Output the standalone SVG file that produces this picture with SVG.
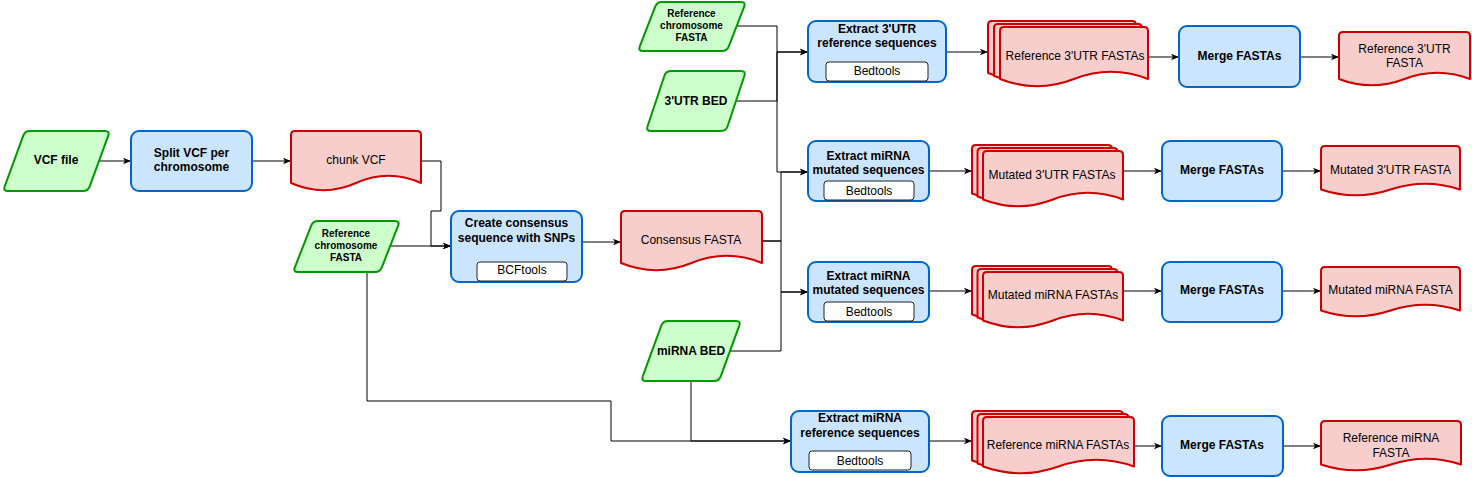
<svg xmlns="http://www.w3.org/2000/svg" width="1472" height="477" viewBox="0 0 1472 477">
<defs>
<marker id="arr" viewBox="0 0 10 10" refX="10" refY="5" markerWidth="8" markerHeight="8" markerUnits="userSpaceOnUse" orient="auto">
<path d="M0,1 L10,5 L0,9 L2.5,5 z" fill="#000"/>
</marker>
<style>
.io{fill:#ccffcc;stroke:#009900;stroke-width:2;stroke-linejoin:round}
.proc{fill:#cce5ff;stroke:#0066cc;stroke-width:2}
.doc{fill:#f8cecc;stroke:#cc0000;stroke-width:2;stroke-linejoin:round}
.tool{fill:#ffffff;stroke:#222;stroke-width:1}
.c{fill:none;stroke:#000;stroke-width:1;marker-end:url(#arr)}
.cn{fill:none;stroke:#000;stroke-width:1}
text{font-family:"Liberation Sans",Arial,Helvetica,sans-serif;font-size:12px;fill:#000;text-anchor:middle}
.b{font-weight:bold}
.s{font-size:10px;font-weight:bold}
</style>
</defs>
<rect width="1472" height="477" fill="#ffffff"/>

<g id="connectors">
<path class="c" d="M100,161 H131"/>
<path class="c" d="M252,161 H291"/>
<path class="c" d="M421,161 H441 V211 H431 V246 H451"/>
<path class="c" d="M390,246 H451"/>
<path class="c" d="M582,242 H621"/>
<path class="c" d="M736,26 H777 V52 H808"/>
<path class="c" d="M736,101 H777 V52 H808"/>
<path class="c" d="M777,52 V172 H808"/>
<path class="c" d="M762,241 H781 V172 H808"/>
<path class="c" d="M762,241 H781 V292 H808"/>
<path class="c" d="M730,351 H781 V292 H808"/>
<path class="c" d="M946,52 H988"/>
<path class="c" d="M1148,57 H1179"/>
<path class="c" d="M1300,57 H1339"/>
<path class="c" d="M929,171 H972"/>
<path class="c" d="M1123,171 H1162"/>
<path class="c" d="M1282,171 H1321"/>
<path class="c" d="M929,291 H972"/>
<path class="c" d="M1123,291 H1162"/>
<path class="c" d="M1282,291 H1321"/>
<path class="c" d="M367,272 V401 H611 V441 H791"/>
<path class="c" d="M691,381 V441 H791"/>
<path class="c" d="M929,441 H972"/>
<path class="c" d="M1134,446 H1162"/>
<path class="c" d="M1283,446 H1321"/>
</g>

<g id="vcf-file">
<path class="io" d="M30,131 L105,131 Q110,131 108.28,135.69 L89.72,186.31 Q88,191 83,191 L8,191 Q3,191 4.72,186.31 L23.28,135.69 Q25,131 30,131 Z"/>
<text class="b" x="56" y="164">VCF file</text>
</g>

<g id="split-vcf">
<rect class="proc" x="131" y="131" width="121" height="60" rx="8"/>
<text class="b" x="191.5" y="157">Split VCF per</text>
<text class="b" x="191.5" y="171">chromosome</text>
</g>

<g id="chunk-vcf">
<path class="doc" d="M291,135 Q291,131 295,131 H417 Q421,131 421,135 V183 Q388.5,168.6 356,183 Q323.5,197.4 291,183 Z"/>
<text x="356" y="164">chunk VCF</text>
</g>

<g id="ref-fasta-left">
<path class="io" d="M318,221 L395,221 Q400,221 398.17,225.65 L381.83,267.35 Q380,272 375,272 L298,272 Q293,272 294.83,267.35 L311.17,225.65 Q313,221 318,221 Z"/>
<text class="s" x="346" y="236.5">Reference</text>
<text class="s" x="346" y="248.5">chromosome</text>
<text class="s" x="346" y="260.5">FASTA</text>
</g>

<g id="create-consensus">
<rect class="proc" x="451" y="211" width="131" height="71" rx="8"/>
<text class="b" x="516.5" y="227">Create consensus</text>
<text class="b" x="516.5" y="242">sequence with SNPs</text>
<rect class="tool" x="477" y="262" width="90" height="19" rx="3"/>
<text x="522" y="273.5">BCFtools</text>
</g>

<g id="consensus-fasta">
<path class="doc" d="M621,215 Q621,211 625,211 H758 Q762,211 762,215 V263 Q726.75,248.6 691.5,263 Q656.25,277.4 621,263 Z"/>
<text x="691" y="243.5">Consensus FASTA</text>
</g>

<g id="ref-fasta-top">
<path class="io" d="M662,2 L741,2 Q746,2 744.19,6.66 L728.81,46.34 Q727,51 722,51 L643,51 Q638,51 639.81,46.34 L655.19,6.66 Q657,2 662,2 Z"/>
<text class="s" x="691.5" y="17">Reference</text>
<text class="s" x="691.5" y="29">chromosome</text>
<text class="s" x="691.5" y="41">FASTA</text>
</g>

<g id="utr-bed">
<path class="io" d="M671,71 L741,71 Q746,71 744.42,75.74 L727.58,126.26 Q726,131 721,131 L651,131 Q646,131 647.58,126.26 L664.42,75.74 Q666,71 671,71 Z"/>
<text class="b" x="696" y="104.5">3'UTR BED</text>
</g>

<g id="mirna-bed">
<path class="io" d="M668,321 L736,321 Q741,321 739.28,325.69 L720.72,376.31 Q719,381 714,381 L646,381 Q641,381 642.72,376.31 L661.28,325.69 Q663,321 668,321 Z"/>
<text class="b" x="691" y="355">miRNA BED</text>
</g>

<g id="extract-utr-ref">
<rect class="proc" x="808" y="21" width="138" height="61" rx="8"/>
<text class="b" x="877" y="32.5">Extract 3'UTR</text>
<text class="b" x="877" y="47">reference sequences</text>
<rect class="tool" x="826" y="62" width="102" height="19" rx="3"/>
<text x="877" y="75">Bedtools</text>
</g>

<g id="extract-mut-1">
<rect class="proc" x="808" y="141" width="121" height="60" rx="8"/>
<text class="b" x="868.5" y="160">Extract miRNA</text>
<text class="b" x="868.5" y="174">mutated sequences</text>
<rect class="tool" x="824" y="181" width="90" height="19" rx="3"/>
<text x="869" y="194.5">Bedtools</text>
</g>

<g id="extract-mut-2">
<rect class="proc" x="808" y="262" width="121" height="60" rx="8"/>
<text class="b" x="868.5" y="280">Extract miRNA</text>
<text class="b" x="868.5" y="294">mutated sequences</text>
<rect class="tool" x="824" y="302" width="90" height="19" rx="3"/>
<text x="869" y="315.5">Bedtools</text>
</g>

<g id="extract-mirna-ref">
<rect class="proc" x="791" y="411" width="138" height="61" rx="8"/>
<text class="b" x="860" y="422">Extract miRNA</text>
<text class="b" x="860" y="437">reference sequences</text>
<rect class="tool" x="809" y="451" width="102" height="19" rx="3"/>
<text x="860" y="464.5">Bedtools</text>
</g>

<g id="ref-utr-fastas">
<path class="doc" d="M988,25 Q988,21 992,21 H1132 Q1136,21 1136,25 V73 Q1099,58.6 1062,73 Q1025,87.4 988,73 Z"/>
<path class="doc" d="M994,28 Q994,24 998,24 H1138 Q1142,24 1142,28 V76 Q1105,61.6 1068,76 Q1031,90.4 994,76 Z"/>
<path class="doc" d="M1000,31 Q1000,27 1004,27 H1144 Q1148,27 1148,31 V79 Q1111,64.6 1074,79 Q1037,93.4 1000,79 Z"/>
<text x="1075" y="59.5">Reference 3'UTR FASTAs</text>
</g>

<g id="mut-utr-fastas">
<path class="doc" d="M972,149 Q972,145 976,145 H1108 Q1112,145 1112,149 V193.5 Q1077,180 1042,193.5 Q1007,207 972,193.5 Z"/>
<path class="doc" d="M977.5,152 Q977.5,148 981.5,148 H1113.5 Q1117.5,148 1117.5,152 V196.5 Q1082.5,183 1047.5,196.5 Q1012.5,210 977.5,196.5 Z"/>
<path class="doc" d="M983,155 Q983,151 987,151 H1119 Q1123,151 1123,155 V199.5 Q1088,186 1053,199.5 Q1018,213 983,199.5 Z"/>
<text x="1052" y="178.5">Mutated 3'UTR FASTAs</text>
</g>

<g id="mut-mirna-fastas">
<path class="doc" d="M972,270 Q972,266 976,266 H1108 Q1112,266 1112,270 V314.5 Q1077,301 1042,314.5 Q1007,328 972,314.5 Z"/>
<path class="doc" d="M977.5,273 Q977.5,269 981.5,269 H1113.5 Q1117.5,269 1117.5,273 V317.5 Q1082.5,304 1047.5,317.5 Q1012.5,331 977.5,317.5 Z"/>
<path class="doc" d="M983,276 Q983,272 987,272 H1119 Q1123,272 1123,276 V320.5 Q1088,307 1053,320.5 Q1018,334 983,320.5 Z"/>
<text x="1053" y="298.5">Mutated miRNA FASTAs</text>
</g>

<g id="ref-mirna-fastas">
<path class="doc" d="M972,415 Q972,411 976,411 H1119 Q1123,411 1123,415 V460.5 Q1085.25,447 1047.5,460.5 Q1009.75,474 972,460.5 Z"/>
<path class="doc" d="M977.5,418 Q977.5,414 981.5,414 H1124.5 Q1128.5,414 1128.5,418 V463.5 Q1090.75,450 1053,463.5 Q1015.25,477 977.5,463.5 Z"/>
<path class="doc" d="M983,421 Q983,417 987,417 H1130 Q1134,417 1134,421 V466.5 Q1096.25,453 1058.5,466.5 Q1020.75,480 983,466.5 Z"/>
<text x="1058" y="449">Reference miRNA FASTAs</text>
</g>

<g id="merge-top">
<rect class="proc" x="1179" y="26" width="121" height="61" rx="8"/>
<text class="b" x="1239.5" y="60">Merge FASTAs</text>
</g>

<g id="merge-1">
<rect class="proc" x="1162" y="141" width="120" height="60" rx="8"/>
<text class="b" x="1222" y="174">Merge FASTAs</text>
</g>

<g id="merge-2">
<rect class="proc" x="1162" y="262" width="120" height="60" rx="8"/>
<text class="b" x="1222" y="293.5">Merge FASTAs</text>
</g>

<g id="merge-3">
<rect class="proc" x="1162" y="416" width="121" height="60" rx="8"/>
<text class="b" x="1222" y="448.5">Merge FASTAs</text>
</g>

<g id="ref-utr-fasta">
<path class="doc" d="M1339,36 Q1339,32 1343,32 H1466 Q1470,32 1470,36 V79 Q1437.25,66.4 1404.5,79 Q1371.75,91.6 1339,79 Z"/>
<text x="1404.5" y="52.5">Reference 3'UTR</text>
<text x="1404.5" y="67">FASTA</text>
</g>

<g id="mut-utr-fasta">
<path class="doc" d="M1321,150 Q1321,146 1325,146 H1456 Q1460,146 1460,150 V189.5 Q1425.25,177.8 1390.5,189.5 Q1355.75,201.2 1321,189.5 Z"/>
<text x="1390.5" y="173.5">Mutated 3'UTR FASTA</text>
</g>

<g id="mut-mirna-fasta">
<path class="doc" d="M1321,271 Q1321,267 1325,267 H1456 Q1460,267 1460,271 V310.5 Q1425.25,298.8 1390.5,310.5 Q1355.75,322.2 1321,310.5 Z"/>
<text x="1390.5" y="293.5">Mutated miRNA FASTA</text>
</g>

<g id="ref-mirna-fasta">
<path class="doc" d="M1321,425 Q1321,421 1325,421 H1457 Q1461,421 1461,425 V464.5 Q1426,452.8 1391,464.5 Q1356,476.2 1321,464.5 Z"/>
<text x="1391" y="442">Reference miRNA</text>
<text x="1391" y="456.5">FASTA</text>
</g>
</svg>
